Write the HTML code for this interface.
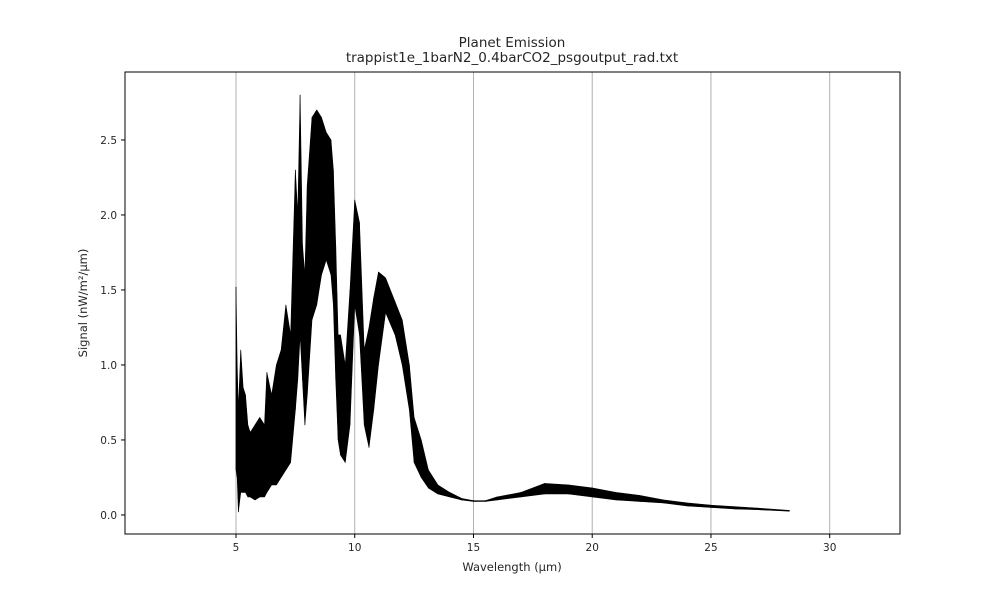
<!DOCTYPE html>
<html><head><meta charset="utf-8"><style>
body{margin:0;background:#fff;}
svg text{font-family:"DejaVu Sans","Liberation Sans",sans-serif;fill:#262626;}
</style></head><body>
<svg width="1000" height="600">
<g id="grid"></g>
<g id="series"></g>
<rect x="125" y="72" width="775" height="462" fill="none" stroke="#000" stroke-width="1"/>
<g id="ticks"></g>
<text x="512" y="47" text-anchor="middle" font-size="13.5">Planet Emission</text>
<text x="512" y="62" text-anchor="middle" font-size="13.5">trappist1e_1barN2_0.4barCO2_psgoutput_rad.txt</text>
<text x="512" y="571" text-anchor="middle" font-size="11.5">Wavelength (μm)</text>
<text transform="translate(87,303) rotate(-90)" text-anchor="middle" font-size="11.5">Signal (nW/m²/μm)</text>
</svg>
<script>
const wl =  [5.0,5.05,5.1,5.2,5.3,5.4,5.5,5.6,5.8,6.0,6.2,6.3,6.5,6.7,6.9,7.1,7.3,7.5,7.6,7.7,7.8,7.9,8.0,8.2,8.4,8.6,8.8,9.0,9.1,9.2,9.3,9.4,9.6,9.8,10.0,10.2,10.4,10.6,10.8,11.0,11.3,11.7,12.0,12.3,12.5,12.8,13.1,13.5,14.0,14.5,15.0,15.5,16.0,17.0,18.0,19.0,20.0,21.0,22.0,23.0,24.0,25.0,26.0,27.0,28.3];
const hi =  [1.52,1.0,0.7,1.1,0.85,0.8,0.6,0.55,0.6,0.65,0.6,0.95,0.8,1.0,1.1,1.4,1.2,2.3,2.0,2.8,1.8,1.6,2.2,2.65,2.7,2.65,2.55,2.5,2.3,1.8,1.2,1.2,1.0,1.5,2.1,1.95,1.1,1.25,1.45,1.62,1.58,1.42,1.3,1.0,0.65,0.5,0.3,0.2,0.15,0.11,0.095,0.095,0.12,0.15,0.21,0.2,0.18,0.15,0.13,0.1,0.08,0.065,0.055,0.045,0.03];
const lo =  [0.3,0.25,0.02,0.15,0.15,0.15,0.12,0.12,0.1,0.12,0.12,0.15,0.2,0.2,0.25,0.3,0.35,0.7,0.9,1.2,0.9,0.6,0.8,1.3,1.4,1.6,1.7,1.6,1.4,0.9,0.5,0.4,0.35,0.6,1.4,1.2,0.6,0.45,0.7,1.0,1.35,1.2,1.0,0.7,0.35,0.25,0.18,0.14,0.12,0.1,0.09,0.09,0.1,0.12,0.14,0.14,0.12,0.1,0.09,0.08,0.06,0.05,0.04,0.035,0.025];
const xTicks = [5,10,15,20,25,30];
const yTicks = [0.0,0.5,1.0,1.5,2.0,2.5];
const X0=0.326, X1=32.96, Y0=-0.127, Y1=2.953;
const L=125,R=900,T=72,B=534;
const sx=v=>L+(v-X0)/(X1-X0)*(R-L);
const sy=v=>B-(v-Y0)/(Y1-Y0)*(B-T);
const NS="http://www.w3.org/2000/svg";
const mk=(t,a,p)=>{const e=document.createElementNS(NS,t);for(const k in a)e.setAttribute(k,a[k]);p.appendChild(e);return e;};
const grid=document.getElementById('grid'),ticks=document.getElementById('ticks'),ser=document.getElementById('series');
xTicks.forEach(v=>{
  const g=mk('line',{x1:sx(v),x2:sx(v),y1:T,y2:B,stroke:'#b0b0b0','stroke-width':1},grid);
  
  
  mk('line',{x1:sx(v),x2:sx(v),y1:B,y2:B+4,stroke:'#000'},ticks);
  const t=mk('text',{x:sx(v),y:B+17,'text-anchor':'middle','font-size':10.5},ticks);
  t.textContent=v;
  
  
});
yTicks.forEach(v=>{
  mk('line',{x1:L-4,x2:L,y1:sy(v),y2:sy(v),stroke:'#000'},ticks);
  const t=mk('text',{x:L-8,y:sy(v)+4,'text-anchor':'end','font-size':10.5},ticks);
  t.textContent=v.toFixed(1);
  
  
});
let pts=wl.map((w,i)=>sx(w)+','+sy(hi[i]));
for(let i=wl.length-1;i>=0;i--)pts.push(sx(wl[i])+','+sy(lo[i]));
const poly=mk('polygon',{points:pts.join(' '),fill:'#000',stroke:'#000','stroke-width':0.6,'stroke-linejoin':'round'},ser);


let zz=[];
wl.forEach((w,i)=>{zz.push(sx(w)+','+sy(hi[i]));zz.push(sx(w)+','+sy(lo[i]));});
const line=mk('polyline',{points:zz.join(' '),fill:'none',stroke:'#000','stroke-width':0.6},ser);


</script>
</body></html>
